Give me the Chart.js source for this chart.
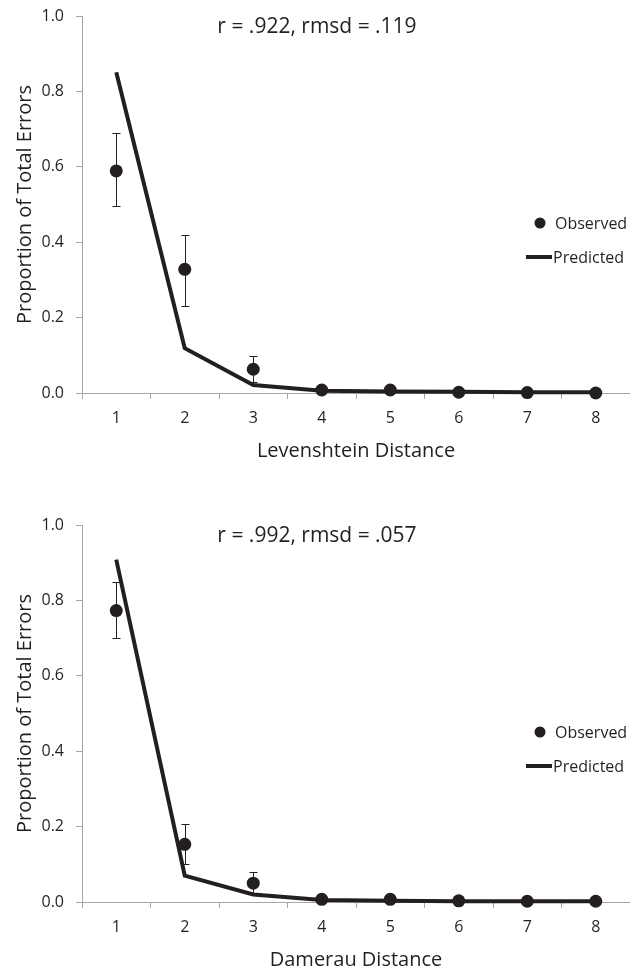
<!DOCTYPE html>
<html lang="en">
<head>
    <meta charset="utf-8">
    <meta name="viewport" content="width=device-width, initial-scale=1">
    <title>Proportion of Total Errors</title>
    <style>
        body { margin: 0; background: #ffffff; overflow: hidden; }
        .chart-box { position: absolute; left: 0; width: 630px; height: 460px; }
    </style>
</head>
<body>
    <!-- Levenshtein chart on top, Damerau below -->
    <div class="chart-box" style="top: 0px;"><canvas id="levChart"></canvas></div>
    <div class="chart-box" style="top: 509px;"><canvas id="damChart"></canvas></div>
    <script src="https://cdn.jsdelivr.net/npm/chart.js"></script>
    <script>
        const distances = ['1', '2', '3', '4', '5', '6', '7', '8']
        const y_tick_values = [0, 0.2, 0.4, 0.6, 0.8, 1.0]

        const lev_observed = [0.589, 0.328, 0.063, 0.008, 0.008, 0.002, 0.001, 0.0]
        const lev_err_high = [0.69, 0.42, 0.099, null, null, null, null, null]
        const lev_err_low = [0.495, 0.232, 0.03, null, null, null, null, null]
        const lev_predicted = [0.851, 0.119, 0.021, 0.006, 0.004, 0.003, 0.002, 0.002]

        const dam_observed = [0.773, 0.153, 0.05, 0.007, 0.007, 0.003, 0.002, 0.002]
        const dam_err_high = [0.848, 0.208, 0.079, 0.012, 0.012, null, null, null]
        const dam_err_low = [0.701, 0.102, 0.022, 0.002, 0.002, null, null, null]
        const dam_predicted = [0.908, 0.07, 0.02, 0.005, 0.003, 0.002, 0.002, 0.002]

        const ink = '#231f20'
        const axis_grey = '#a6a6a6'
        const font_family = '"Open Sans", "Noto Sans", sans-serif'

        function error_bars(err_low, err_high) {
            // Whiskers for the observed points, drawn under the markers
            return {
                id: 'errorBars',
                beforeDatasetsDraw(chart) {
                    const ctx = chart.ctx
                    const x = chart.scales.x
                    const y = chart.scales.y
                    ctx.save()
                    ctx.strokeStyle = ink
                    ctx.lineWidth = 1
                    err_low.forEach((low, i) => {
                        if (low === null) return
                        const px = Math.round(x.getPixelForValue(i)) + 0.5
                        const top = Math.round(y.getPixelForValue(err_high[i])) + 0.5
                        const bottom = Math.round(y.getPixelForValue(low)) + 0.5
                        ctx.beginPath()
                        ctx.moveTo(px, top)
                        ctx.lineTo(px, bottom)
                        ctx.moveTo(px - 4, top)
                        ctx.lineTo(px + 4, top)
                        ctx.moveTo(px - 4, bottom)
                        ctx.lineTo(px + 4, bottom)
                        ctx.stroke()
                    })
                    ctx.restore()
                }
            }
        }

        function fit_stats_and_legend(stats_text) {
            // Fit statistics above the curve and the legend on the right
            return {
                id: 'statsLegend',
                afterDraw(chart) {
                    const ctx = chart.ctx
                    const sets = chart.data.datasets
                    ctx.save()
                    ctx.fillStyle = ink
                    ctx.strokeStyle = ink
                    ctx.textBaseline = 'middle'
                    ctx.textAlign = 'center'
                    ctx.font = '21px ' + font_family
                    ctx.fillText(stats_text, 317, 27)
                    ctx.textAlign = 'left'
                    ctx.font = '16px ' + font_family
                    ctx.beginPath()
                    ctx.arc(540, 223, 5.5, 0, Math.PI * 2)
                    ctx.fill()
                    ctx.fillText(sets[0].label, 555, 224)
                    ctx.lineWidth = 4
                    ctx.beginPath()
                    ctx.moveTo(526, 257)
                    ctx.lineTo(552, 257)
                    ctx.stroke()
                    ctx.fillText(sets[1].label, 553, 258)
                    ctx.restore()
                }
            }
        }

        function make_chart(canvas_id, observed, err_low, err_high, predicted, stats_text, x_title) {
            const config = {
                type: 'line',
                data: {
                    labels: distances,
                    datasets: [
                        {
                            label: 'Observed',
                            data: observed,
                            showLine: false,
                            clip: false,
                            pointRadius: 6.5,
                            pointBackgroundColor: ink,
                            pointBorderColor: ink,
                            pointBorderWidth: 0
                        },
                        {
                            label: 'Predicted',
                            data: predicted,
                            clip: false,
                            borderColor: ink,
                            borderWidth: 4,
                            pointRadius: 0,
                            tension: 0
                        }
                    ]
                },
                options: {
                    responsive: true,
                    maintainAspectRatio: false,
                    animation: false,
                    layout: {
                        autoPadding: false,
                        padding: { top: 16, left: 0, right: 0, bottom: 0 }
                    },
                    scales: {
                        x: {
                            offset: true,
                            afterFit: (scale) => {
                                scale.height = 67
                                scale.paddingLeft = 0
                                scale.paddingRight = 0
                            },
                            grid: {
                                offset: true,
                                drawOnChartArea: false,
                                color: axis_grey,
                                tickLength: 6
                            },
                            border: { color: axis_grey, width: 1 },
                            ticks: {
                                color: ink,
                                padding: 10,
                                font: { family: font_family, size: 16 }
                            },
                            title: {
                                display: true,
                                text: x_title,
                                color: ink,
                                padding: { top: 0, bottom: 0 },
                                font: { family: font_family, size: 20, lineHeight: 0.9 }
                            }
                        },
                        y: {
                            min: 0,
                            max: 1,
                            afterFit: (scale) => {
                                scale.width = 82
                                scale.paddingTop = 0
                                scale.paddingBottom = 0
                            },
                            afterBuildTicks: (scale) => {
                                scale.ticks = y_tick_values.map(v => ({ value: v }))
                            },
                            grid: {
                                drawOnChartArea: false,
                                color: axis_grey,
                                tickLength: 6
                            },
                            border: { color: axis_grey, width: 1 },
                            ticks: {
                                color: ink,
                                padding: 12,
                                font: { family: font_family, size: 16 },
                                callback: (value) => Number(value).toFixed(1)
                            },
                            title: {
                                display: true,
                                text: 'Proportion of Total Errors',
                                color: ink,
                                padding: { top: 13, bottom: 0 },
                                font: { family: font_family, size: 20 }
                            }
                        }
                    },
                    plugins: {
                        legend: { display: false },
                        title: { display: false },
                        tooltip: { enabled: false }
                    }
                },
                plugins: [error_bars(err_low, err_high), fit_stats_and_legend(stats_text)]
            }
            const ctx = document.getElementById(canvas_id).getContext('2d')
            return new Chart(ctx, config)
        }

        make_chart('levChart', lev_observed, lev_err_low, lev_err_high, lev_predicted,
            'r = .922, rmsd = .119', 'Levenshtein Distance')
        make_chart('damChart', dam_observed, dam_err_low, dam_err_high, dam_predicted,
            'r = .992, rmsd = .057', 'Damerau Distance')
    </script>
</body>
</html>
